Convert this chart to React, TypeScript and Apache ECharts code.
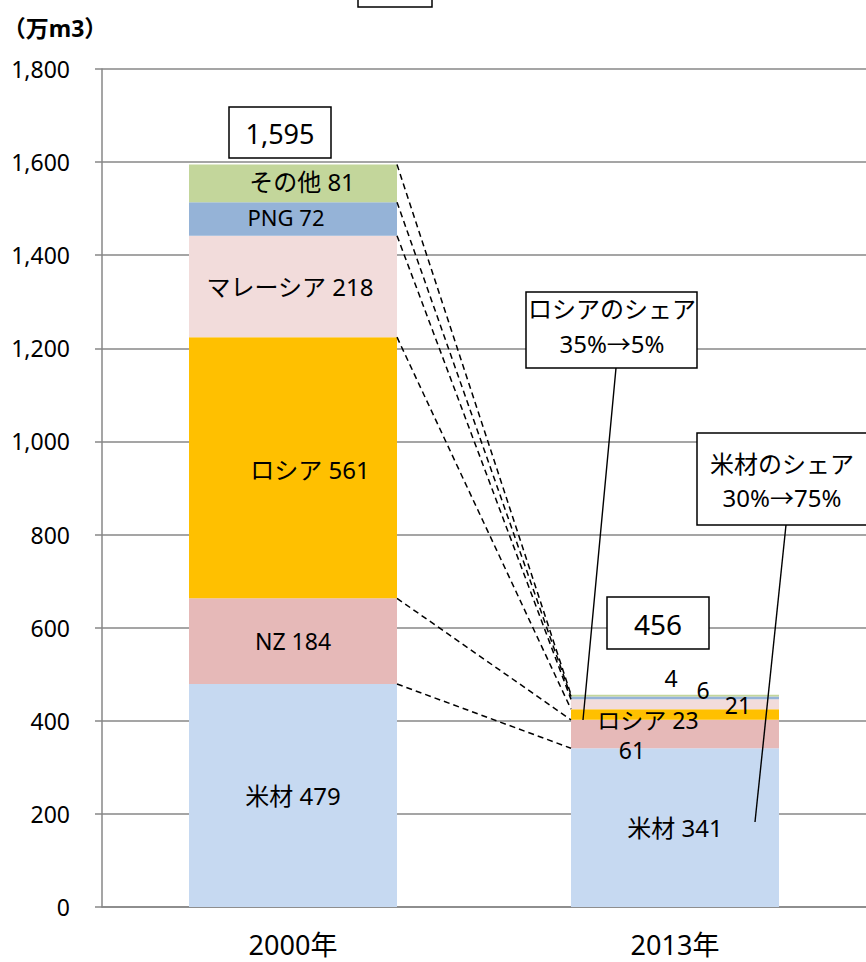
import React, { useEffect, useRef } from "react";
import * as echarts from "echarts";

const categories = ["2000年", "2013年"];
const seriesNames = ["米材", "NZ", "ロシア", "マレーシア", "PNG", "その他"];
const values2000 = [479, 184, 561, 218, 72, 81];
const values2013 = [341, 61, 23, 21, 6, 4];
const showName2013 = [true, false, true, false, false, false];
const colors = ["#C6D9F1", "#E6B9B8", "#FFC000", "#F2DCDB", "#95B3D7", "#C3D69B"];
const yTicks = { min: 0, max: 1800, interval: 200 };
const unitLabel = "（万m3）";
const callout1 = ["ロシアのシェア", "35%→5%"];
const callout2 = ["米材のシェア", "30%→75%"];

const FONT = "'Noto Sans', 'Noto Sans CJK JP', sans-serif";
const BAR_W = 208;

// label offsets (style only)
const off2000 = [[0, 0], [0, 0], [17, 2], [-3, 0], [-7, -2], [9, -2]];
const pos2013: (number[] | null)[] = [null, [61, 30], [77, 11], [167, 6], [132, -7], [100, -17]];
const size2000 = [24, 23, 24, 24, 22, 24];

export default function App() {
  const ref = useRef<HTMLDivElement>(null);
  useEffect(() => {
    if (!ref.current) return;
    const chart = echarts.init(ref.current, null, { renderer: "svg" });

    const total2000 = values2000.reduce((a, b) => a + b, 0);
    const total2013 = values2013.reduce((a, b) => a + b, 0);
    const cum2000: number[] = [];
    const cum2013: number[] = [];
    values2000.reduce((acc, v, i) => ((cum2000[i] = acc + v), acc + v), 0);
    values2013.reduce((acc, v, i) => ((cum2013[i] = acc + v), acc + v), 0);

    const barSeries = seriesNames.map((name, i) => ({
      type: "bar",
      name,
      stack: "total",
      barWidth: BAR_W,
      itemStyle: { color: colors[i] },
      emphasis: { disabled: true },
      data: [
        {
          value: values2000[i],
          label: {
            show: true,
            position: "inside",
            offset: off2000[i],
            formatter: `${name} ${values2000[i]}`,
            fontSize: size2000[i],
            fontFamily: FONT,
            color: "#000",
          },
        },
        {
          value: values2013[i],
          label: pos2013[i]
            ? {
                show: true,
                position: pos2013[i],
                align: "center",
                verticalAlign: "middle",
                lineHeight: 20,
                formatter: showName2013[i] ? `${name} ${values2013[i]}` : `${values2013[i]}`,
                fontSize: 23,
                fontFamily: FONT,
                color: "#000",
              }
            : {
                show: true,
                position: "inside",
                formatter: showName2013[i] ? `${name} ${values2013[i]}` : `${values2013[i]}`,
                fontSize: 24,
                fontFamily: FONT,
                color: "#000",
              },
        },
      ],
    }));

    const seriesLines = {
      type: "custom",
      z: 5,
      encode: { x: 0, y: 1 },
      data: cum2000.map((c, i) => [0, c, cum2013[i]]),
      renderItem: (params: any, api: any) => {
        const p1 = api.coord([0, api.value(1)]);
        const p2 = api.coord([1, api.value(2)]);
        return {
          type: "line",
          shape: { x1: p1[0] + BAR_W / 2, y1: p1[1], x2: p2[0] - BAR_W / 2, y2: p2[1] },
          style: { stroke: "#000", lineWidth: 1.5, lineDash: [6, 4], fill: null },
        };
      },
    };

    const txt = (text: string, x: number, y: number, size: number, weight = "normal") => ({
      type: "text",
      z: 101,
      x,
      y,
      style: {
        text,
        fill: "#000",
        font: `${weight} ${size}px ${FONT}`,
        align: "center",
        verticalAlign: "middle",
      },
    });
    const box = (x: number, y: number, w: number, h: number) => ({
      type: "rect",
      z: 100,
      shape: { x, y, width: w, height: h },
      style: { fill: "#fff", stroke: "#000", lineWidth: 1.5 },
    });
    const ln = (x1: number, y1: number, x2: number, y2: number) => ({
      type: "line",
      z: 99,
      shape: { x1, y1, x2, y2 },
      style: { stroke: "#000", lineWidth: 1.4 },
    });

    chart.setOption({
      animation: false,
      textStyle: { fontFamily: FONT },
      grid: { left: 102, right: -4, top: 69, bottom: 55, containLabel: false },
      xAxis: {
        type: "category",
        data: categories,
        axisLine: { lineStyle: { color: "#878787", width: 1.5 } },
        axisTick: { show: false },
        axisLabel: { fontSize: 27, lineHeight: 27, color: "#000", margin: 24, fontFamily: FONT },
      },
      yAxis: {
        type: "value",
        min: yTicks.min,
        max: yTicks.max,
        interval: yTicks.interval,
        axisLine: { show: true, lineStyle: { color: "#878787", width: 1.5 } },
        axisTick: { show: true, length: 7, lineStyle: { color: "#878787", width: 1.5 } },
        splitLine: { lineStyle: { color: "#878787", width: 1.5 } },
        axisLabel: {
          fontSize: 23,
          color: "#000",
          margin: 32,
          fontFamily: FONT,
          formatter: (v: number) => v.toLocaleString("en-US"),
        },
      },
      series: [...barSeries, seriesLines],
      graphic: [
        txt(unitLabel, 55, 28, 23, "bold"),
        box(358, -10, 74, 17),
        box(229, 107, 102, 51),
        txt(total2000.toLocaleString("en-US"), 280, 133, 27),
        box(607, 597, 102, 52),
        txt(total2013.toLocaleString("en-US"), 658, 624, 28),
        ln(616, 368, 583, 720),
        box(526, 292, 171, 76),
        txt(callout1[0], 612, 308, 24),
        txt(callout1[1], 612, 343, 24),
        ln(786, 525, 755, 822),
        box(697, 433, 172, 92),
        txt(callout2[0], 782, 463, 24),
        txt(callout2[1], 782, 497, 24),
      ],
    });
    return () => chart.dispose();
  }, []);
  return (
    <div
      ref={ref}
      style={{ position: "fixed", left: 0, top: 0, width: 866, height: 962, background: "#fff" }}
    />
  );
}
